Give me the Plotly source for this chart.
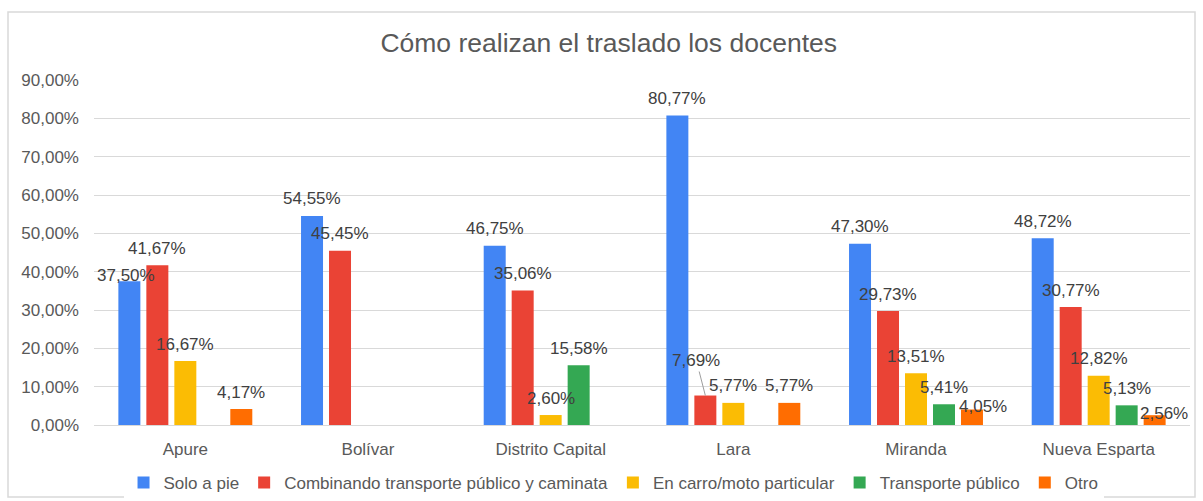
import plotly.graph_objects as go

# ---------------- data ----------------
categories = ["Apure", "Bolívar", "Distrito Capital", "Lara", "Miranda", "Nueva Esparta"]
series_names = [
    "Solo a pie",
    "Combinando transporte público y caminata",
    "En carro/moto particular",
    "Transporte público",
    "Otro",
]
solo_a_pie = [37.50, 54.55, 46.75, 80.77, 47.30, 48.72]
combinando = [41.67, 45.45, 35.06, 7.69, 29.73, 30.77]
carro_moto = [16.67, None, 2.60, 5.77, 13.51, 12.82]
transporte_publico = [None, None, 15.58, None, 5.41, 5.13]
otro = [4.17, None, None, 5.77, 4.05, 2.56]
y_ticks = [0, 10, 20, 30, 40, 50, 60, 70, 80, 90]

series_values = [solo_a_pie, combinando, carro_moto, transporte_publico, otro]

# ---------------- style ----------------
colors = ["#4285F4", "#EA4335", "#FBBC04", "#34A853", "#FF6D01"]
FONT = "Arial, Liberation Sans, sans-serif"
BARGAP = 0.234
BARGROUPGAP = 0.214
LABEL_LIFT = 17  # px between bar top and label centre
# per-label nudges (series index, category index) -> (dx px, dy px)
nudges = {
    (0, 0): (-3, -11),
    (4, 4): (11, -14),
    (4, 5): (9, -15),
}
leader = {(1, 3): (-9, -35)}  # labels moved away with a leader line


def fmt(v):
    return f"{v:.2f}".replace(".", ",") + "%"


fig = go.Figure()
for name, vals, col in zip(series_names, series_values, colors):
    fig.add_trace(go.Bar(name=name, x=categories, y=vals, marker_color=col,
                         marker_line_width=0))

n = len(series_names)
slot = (1 - BARGAP) / n
annotations = []
for i, vals in enumerate(series_values):
    for j, v in enumerate(vals):
        if v is None:
            continue
        xpos = j + (i - (n - 1) / 2) * slot
        if (i, j) in leader:
            ax, ay = leader[(i, j)]
            annotations.append(dict(
                x=xpos, y=v, xref="x", yref="y", text=fmt(v), showarrow=True,
                ax=ax, ay=ay, arrowhead=0, arrowwidth=1, arrowcolor="#9e9e9e",
                standoff=0, font=dict(family=FONT, size=17, color="#404040")))
            continue
        dx, dy = nudges.get((i, j), (0, 0))
        annotations.append(dict(
            x=xpos, y=v, xref="x", yref="y", text=fmt(v), showarrow=False,
            xanchor="center", yanchor="middle", xshift=dx, yshift=LABEL_LIFT + dy,
            font=dict(family=FONT, size=17, color="#404040")))

fig.update_layout(
    width=1203, height=501,
    margin=dict(l=94, r=13, t=80, b=76, autoexpand=False),
    paper_bgcolor="white", plot_bgcolor="white",
    barmode="group", bargap=BARGAP, bargroupgap=BARGROUPGAP,
    separators=",.",
    title=dict(text="Cómo realizan el traslado los docentes", x=0.506, xref="container",
               xanchor="center", y=1 - 43 / 501, yref="container", yanchor="middle",
               font=dict(family=FONT, size=26.5, color="#595959")),
    legend=dict(orientation="h", xref="container", yref="container", x=0.51, y=18 / 501,
                xanchor="center", yanchor="middle", itemwidth=30,
                font=dict(family=FONT, size=17, color="#595959"), traceorder="normal"),
    annotations=annotations,
    shapes=[dict(type="rect", xref="paper", yref="paper",
                 x0=(8 - 94) / 1096, x1=(1195 - 94) / 1096,
                 y0=(425 - 497) / 345, y1=(425 - 12) / 345,
                 line=dict(color="#d9d9d9", width=1.5), layer="below")],
    showlegend=True,
)
fig.update_yaxes(range=[0, 90], tickvals=y_ticks, ticktext=[fmt(t) for t in y_ticks],
                 showgrid=True, gridcolor="#d9d9d9", gridwidth=1.3, zeroline=False,
                 showline=False, ticks="", ticklabelstandoff=14, automargin=False,
                 tickfont=dict(family=FONT, size=17, color="#595959"))
fig.update_xaxes(showgrid=False, showline=True, linecolor="#d9d9d9", linewidth=1.3,
                 ticks="", ticklabelstandoff=8, automargin=False,
                 tickfont=dict(family=FONT, size=17, color="#595959"))

fig.write_html("out.html",
               config={"displayModeBar": False},
               post_script="document.body.style.margin='0';"
                           "document.body.style.overflow='hidden';")
